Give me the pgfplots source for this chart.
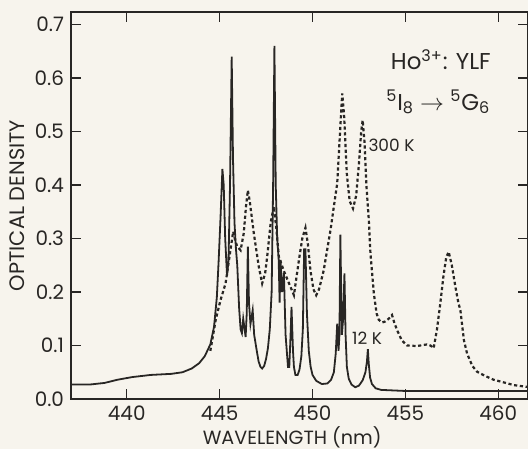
\documentclass[border=0pt]{standalone}
\usepackage{fontspec}
\setmainfont{Poppins}
\usepackage{pgfplots}
\pgfplotsset{compat=1.18}

\definecolor{paper}{RGB}{247,244,237}
\definecolor{ink}{RGB}{40,38,36}

\begin{document}
\begin{tikzpicture}
  % page frame, same proportions as the scan
  \path[use as bounding box, fill=paper] (-35.5bp,-25bp) rectangle (228.5bp,199.5bp);
  \begin{axis}[
      scale only axis,
      width=228.5bp, height=193.5bp,
      xmin=437.0, xmax=461.6,
      ymin=0, ymax=0.7234,
      xtick={440,445,...,460},
      ytick={0,0.1,...,0.7},
      tick align=inside,
      major tick length=5bp,
      axis line style={ink, line width=1bp},
      every tick/.style={ink, line width=0.7bp},
      tick label style={ink, font=\fontsize{10}{11}\selectfont},
      /pgf/number format/assume math mode=true,
      yticklabel style={/pgf/number format/fixed, /pgf/number format/fixed zerofill, /pgf/number format/precision=1},
      xticklabel style={/pgf/number format/1000 sep={}},
      xlabel={WAVELENGTH (nm)},
      ylabel={OPTICAL DENSITY},
      xlabel style={ink, font=\fontsize{9.6}{11}\selectfont, at={(axis description cs:0.484,-0.098)}, anchor=center},
      ylabel style={ink, font=\fontsize{10.5}{12}\selectfont, at={(axis description cs:-0.118,0.50)}, anchor=center},
      clip=true,
    ]
    % 12 K
    \addplot[ink, line width=0.9bp] coordinates {
      (437.0,0.027) (438.0,0.027) (438.8,0.030) (439.5,0.036) (440.3,0.041)
      (441.3,0.045) (442.4,0.047) (443.0,0.050) (443.5,0.057) (443.9,0.067)
      (444.2,0.080) (444.5,0.102) (444.7,0.135) (444.85,0.19) (444.95,0.26)
      (445.05,0.34) (445.15,0.43) (445.22,0.40) (445.30,0.30) (445.40,0.23)
      (445.48,0.26) (445.56,0.40) (445.65,0.64) (445.72,0.45) (445.80,0.33)
      (445.88,0.28) (445.95,0.25) (446.05,0.17) (446.13,0.13) (446.2,0.123)
      (446.27,0.15) (446.40,0.116) (446.46,0.16) (446.52,0.285) (446.58,0.18)
      (446.66,0.14) (446.78,0.166) (446.86,0.12) (447.0,0.09) (447.1,0.07)
      (447.2,0.06) (447.29,0.057) (447.4,0.062) (447.5,0.075) (447.6,0.095)
      (447.7,0.13) (447.8,0.2) (447.88,0.40) (447.95,0.66)
      (448.02,0.40) (448.1,0.30) (448.18,0.26) (448.23,0.18) (448.28,0.26)
      (448.36,0.20) (448.46,0.235) (448.55,0.12) (448.68,0.06) (448.75,0.06)
      (448.82,0.12) (448.87,0.172) (448.95,0.09) (449.0,0.06) (449.08,0.045)
      (449.2,0.045) (449.3,0.055) (449.4,0.08) (449.48,0.13) (449.55,0.28)
      (449.62,0.28) (449.7,0.16) (449.8,0.09) (449.9,0.06) (450.0,0.045)
      (450.2,0.034) (450.5,0.028) (450.8,0.029) (451.0,0.036) (451.15,0.05)
      (451.25,0.085) (451.33,0.141) (451.40,0.09) (451.45,0.12) (451.5,0.307)
      (451.58,0.12) (451.65,0.15) (451.72,0.235) (451.78,0.12) (451.85,0.06)
      (451.95,0.038) (452.1,0.027) (452.3,0.022) (452.5,0.025) (452.7,0.035)
      (452.85,0.05) (452.93,0.07) (452.98,0.093) (453.03,0.065) (453.1,0.04)
      (453.2,0.028) (453.4,0.020) (453.7,0.017) (455.0,0.015) (461.7,0.015)
    };
    % 300 K
    \addplot[ink, line width=1.1bp, dash pattern=on 1.6bp off 1.3bp] coordinates {
      (444.5,0.09) (444.8,0.15) (445.05,0.185) (445.32,0.216) (445.59,0.28)
      (445.73,0.313) (445.85,0.295) (445.95,0.285) (446.13,0.278) (446.3,0.31)
      (446.42,0.36) (446.52,0.39) (446.62,0.37) (446.84,0.31) (447.11,0.247)
      (447.29,0.216) (447.45,0.235) (447.56,0.266) (447.75,0.33) (447.92,0.36)
      (448.05,0.32) (448.19,0.266) (448.45,0.24) (448.69,0.22) (449.0,0.194)
      (449.27,0.26) (449.45,0.30) (449.62,0.32) (449.75,0.29) (449.89,0.24)
      (450.05,0.205) (450.2,0.194) (450.35,0.205) (450.6,0.24) (450.97,0.316)
      (451.15,0.36) (451.33,0.403) (451.5,0.51) (451.6,0.571) (451.7,0.53)
      (451.85,0.42) (452.0,0.37) (452.18,0.356) (452.35,0.38) (452.5,0.44)
      (452.62,0.50) (452.7,0.521) (452.8,0.48) (452.9,0.40) (453.03,0.335)
      (453.12,0.272) (453.3,0.198) (453.45,0.16) (453.57,0.148) (453.75,0.143)
      (453.92,0.145) (454.1,0.150) (454.28,0.157) (454.4,0.143) (454.55,0.129)
      (454.8,0.110) (455.09,0.100) (455.62,0.099) (456.16,0.102) (456.35,0.100)
      (456.52,0.095) (456.7,0.13) (456.88,0.179) (457.05,0.23) (457.2,0.265)
      (457.33,0.275) (457.5,0.25) (457.69,0.21) (457.85,0.18) (457.96,0.166)
      (458.15,0.11) (458.32,0.085) (458.6,0.062) (458.86,0.051) (459.3,0.043)
      (459.75,0.036) (460.3,0.031) (460.83,0.026) (461.7,0.022)
    };
    \node[ink, font=\fontsize{8.5}{10}\selectfont, inner sep=0pt] at (axis cs:454.25,0.475) {300 K};
    \node[ink, font=\fontsize{8.5}{10}\selectfont, inner sep=0pt] at (axis cs:452.94,0.113) {12 K};
    \node[ink, font=\fontsize{11.5}{13}\selectfont, anchor=west, inner sep=0pt] at (axis cs:454.2,0.634) {Ho\textsuperscript{3+}: YLF};
    \node[ink, font=\fontsize{11.5}{13}\selectfont, anchor=west, inner sep=0pt] at (axis cs:453.95,0.555) {\textsuperscript{5}I\textsubscript{8} $\rightarrow$ \textsuperscript{5}G\textsubscript{6}};
  \end{axis}
\end{tikzpicture}
\end{document}
